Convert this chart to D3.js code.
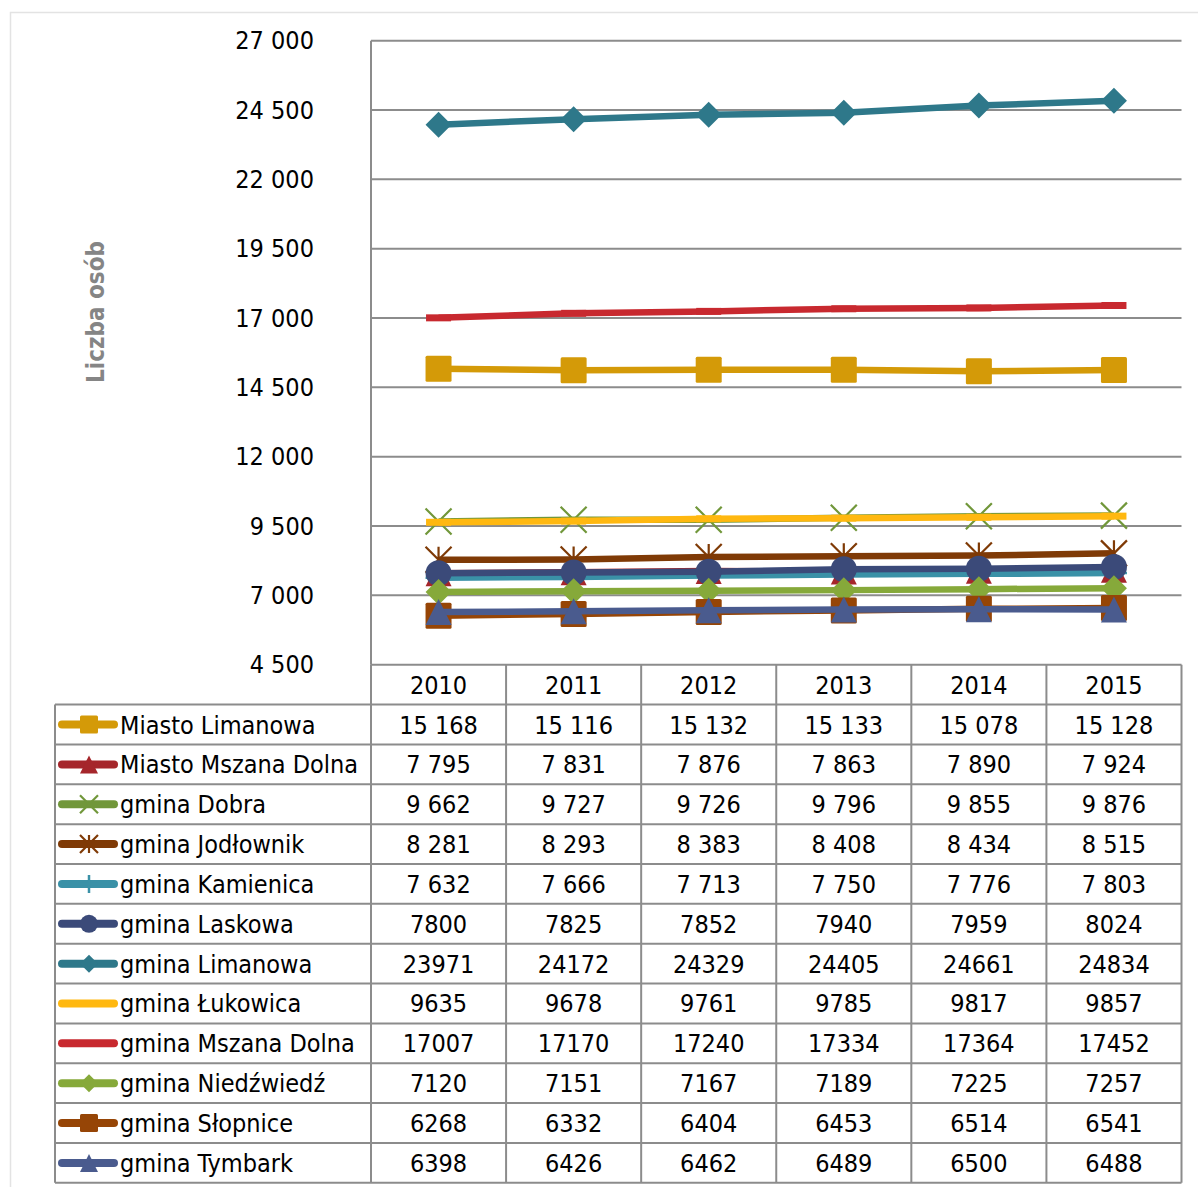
<!DOCTYPE html>
<html>
<head>
<meta charset="utf-8">
<script src="https://cdn.jsdelivr.net/npm/d3@7"></script>
<style>
  html, body { margin: 0; padding: 0; background: #fff; }
  svg { display: block; }
  text { font-family: "DejaVu Sans Condensed", "DejaVu Sans", sans-serif; }
</style>
</head>
<body>
<svg id="chart" width="1198" height="1187"></svg>
<script>
// ---- data ----
const years = ["2010", "2011", "2012", "2013", "2014", "2015"];
const seriesNames = [
  "Miasto Limanowa", "Miasto Mszana Dolna", "gmina Dobra", "gmina Jodłownik",
  "gmina Kamienica", "gmina Laskowa", "gmina Limanowa", "gmina Łukowica",
  "gmina Mszana Dolna", "gmina Niedźwiedź", "gmina Słopnice", "gmina Tymbark"
];
const miastoLimanowa    = [15168, 15116, 15132, 15133, 15078, 15128];
const miastoMszanaDolna = [7795, 7831, 7876, 7863, 7890, 7924];
const gminaDobra        = [9662, 9727, 9726, 9796, 9855, 9876];
const gminaJodlownik    = [8281, 8293, 8383, 8408, 8434, 8515];
const gminaKamienica    = [7632, 7666, 7713, 7750, 7776, 7803];
const gminaLaskowa      = [7800, 7825, 7852, 7940, 7959, 8024];
const gminaLimanowa     = [23971, 24172, 24329, 24405, 24661, 24834];
const gminaLukowica     = [9635, 9678, 9761, 9785, 9817, 9857];
const gminaMszanaDolna  = [17007, 17170, 17240, 17334, 17364, 17452];
const gminaNiedzwiedz   = [7120, 7151, 7167, 7189, 7225, 7257];
const gminaSlopnice     = [6268, 6332, 6404, 6453, 6514, 6541];
const gminaTymbark      = [6398, 6426, 6462, 6489, 6500, 6488];
const seriesValues = [miastoLimanowa, miastoMszanaDolna, gminaDobra, gminaJodlownik,
  gminaKamienica, gminaLaskowa, gminaLimanowa, gminaLukowica, gminaMszanaDolna,
  gminaNiedzwiedz, gminaSlopnice, gminaTymbark];
// table cells of the first five rows are shown with a thousands space
const groupedThousands = [true, true, true, true, true, false, false, false, false, false, false, false];
const yTicks = [4500, 7000, 9500, 12000, 14500, 17000, 19500, 22000, 24500, 27000];
const yTitle = "Liczba osób";

// ---- styles ----
const colors = ["#D49A08", "#A5262B", "#71973A", "#7F3A06", "#3A91A7", "#3B4A79",
  "#2E788A", "#FFB810", "#C8292F", "#86A93A", "#964506", "#4A5B8E"];
const markers = ["square", "triangle", "x", "star", "plus", "circle",
  "diamond", "dash", "dash", "diamond", "square", "triangle"];

const svg = d3.select("#chart");
const L = 371, R = 1181.5, T = 40.7, B = 664.7;
const rowH = 39.85, headerBottom = 704.6, tableLeft = 55;

const x = d3.scaleBand().domain(years).range([L, R]).padding(0);
const y = d3.scaleLinear().domain([4500, 27000]).range([B, T]);
const cx = d => x(d) + x.bandwidth() / 2;
const fmtGrouped = v => d3.format(",")(v).replace(/,/g, " ");

// outer frame
svg.append("path").attr("d", "M10.5,1187 V12.5 H1198")
  .attr("fill", "none").attr("stroke", "#e3e3e3").attr("stroke-width", 1.5);

// gridlines
svg.append("g").selectAll("line").data(yTicks).join("line")
  .attr("x1", L).attr("x2", R).attr("y1", d => y(d)).attr("y2", d => y(d))
  .attr("stroke", "#8c8c8c").attr("stroke-width", 2);
// y axis line
svg.append("line").attr("x1", L).attr("x2", L).attr("y1", T).attr("y2", B)
  .attr("stroke", "#8c8c8c").attr("stroke-width", 2);

// y tick labels via axis
const yAxis = d3.axisLeft(y).tickValues(yTicks).tickSize(0).tickPadding(0)
  .tickFormat(d => fmtGrouped(d));
const yg = svg.append("g").attr("transform", "translate(314,0)").call(yAxis);
yg.select(".domain").remove();
yg.selectAll("text").attr("font-size", 25).attr("fill", "#000")
  .attr("font-family", "'DejaVu Sans Condensed', 'DejaVu Sans', sans-serif");

// y title
svg.append("text").attr("transform", "translate(104,312) rotate(-90)")
  .attr("text-anchor", "middle").attr("font-size", 24).attr("font-weight", "bold")
  .attr("fill", "#858585").text(yTitle);

// marker drawing
function drawMarker(g, type, color, s) {
  const h = s / 2;
  if (type === "square") {
    g.append("rect").attr("x", -h).attr("y", -h).attr("width", s).attr("height", s)
      .attr("rx", 1.5).attr("fill", color);
  } else if (type === "triangle") {
    g.append("path").attr("d", `M0,${-h} L${h},${h} L${-h},${h} Z`).attr("fill", color);
  } else if (type === "diamond") {
    g.append("path").attr("d", `M0,${-h} L${h},0 L0,${h} L${-h},0 Z`).attr("fill", color);
  } else if (type === "circle") {
    g.append("circle").attr("r", h).attr("fill", color);
  } else if (type === "x") {
    g.append("path").attr("d", `M${-h},${-h} L${h},${h} M${h},${-h} L${-h},${h}`)
      .attr("stroke", color).attr("stroke-width", 2.2).attr("fill", "none");
  } else if (type === "star") {
    g.append("path").attr("d", `M${-h},${-h} L${h},${h} M${h},${-h} L${-h},${h} M0,${-h} L0,${h}`)
      .attr("stroke", color).attr("stroke-width", 2.2).attr("fill", "none");
  } else if (type === "plus") {
    g.append("path").attr("d", `M0,${-h} L0,${h} M${-h},0 L${h},0`)
      .attr("stroke", color).attr("stroke-width", 2.5).attr("fill", "none");
  } else if (type === "dash") {
    g.append("rect").attr("x", -h).attr("y", -3.5).attr("width", s).attr("height", 7)
      .attr("fill", color);
  }
}

// series lines + markers in order
const line = d3.line().x((d, i) => cx(years[i])).y(d => y(d));
const plot = svg.append("g");
seriesValues.forEach((vals, si) => {
  const g = plot.append("g");
  g.append("path").attr("d", line(vals)).attr("fill", "none")
    .attr("stroke", colors[si]).attr("stroke-width", 6.5).attr("stroke-linejoin", "round");
  vals.forEach((v, i) => {
    const mg = g.append("g").attr("transform", `translate(${cx(years[i])},${y(v)})`);
    drawMarker(mg, markers[si], colors[si], markers[si] === "dash" ? 25 : 26);
  });
});

// ---- data table ----
const tbl = svg.append("g");
const gridColor = "#8c8c8c";
const nRows = seriesNames.length;
const tableBottom = headerBottom + nRows * rowH;
// header row
years.forEach(yr => {
  tbl.append("text").attr("x", cx(yr)).attr("y", (B + headerBottom) / 2)
    .attr("dy", "0.36em").attr("text-anchor", "middle").attr("font-size", 25).text(yr);
});
// horizontal lines
for (let r = 0; r <= nRows; r++) {
  const yy = headerBottom + r * rowH;
  tbl.append("line").attr("x1", tableLeft).attr("x2", R).attr("y1", yy).attr("y2", yy)
    .attr("stroke", gridColor).attr("stroke-width", 2);
}
// vertical lines
tbl.append("line").attr("x1", tableLeft).attr("x2", tableLeft)
  .attr("y1", headerBottom).attr("y2", tableBottom).attr("stroke", gridColor).attr("stroke-width", 2);
[...years.map(d => x(d)), R].forEach(xx => {
  tbl.append("line").attr("x1", xx).attr("x2", xx).attr("y1", B).attr("y2", tableBottom)
    .attr("stroke", gridColor).attr("stroke-width", 2);
});
// rows
seriesNames.forEach((name, si) => {
  const rc = headerBottom + si * rowH + rowH / 2;
  const lg = tbl.append("g").attr("transform", `translate(0,${rc})`);
  lg.append("line").attr("x1", 62).attr("x2", 114).attr("y1", 0).attr("y2", 0)
    .attr("stroke", colors[si]).attr("stroke-width", 8).attr("stroke-linecap", "round");
  if (markers[si] !== "dash") {
    const mg = lg.append("g").attr("transform", "translate(89,0)");
    drawMarker(mg, markers[si], colors[si], 18);
  }
  lg.append("text").attr("x", 120).attr("y", 0).attr("dy", "0.36em")
    .attr("font-size", 25).attr("fill", "#000").text(name);
  seriesValues[si].forEach((v, i) => {
    tbl.append("text").attr("x", cx(years[i])).attr("y", rc).attr("dy", "0.36em")
      .attr("text-anchor", "middle").attr("font-size", 25).attr("fill", "#000")
      .text(groupedThousands[si] ? fmtGrouped(v) : String(v));
  });
});
</script>
</body>
</html>
